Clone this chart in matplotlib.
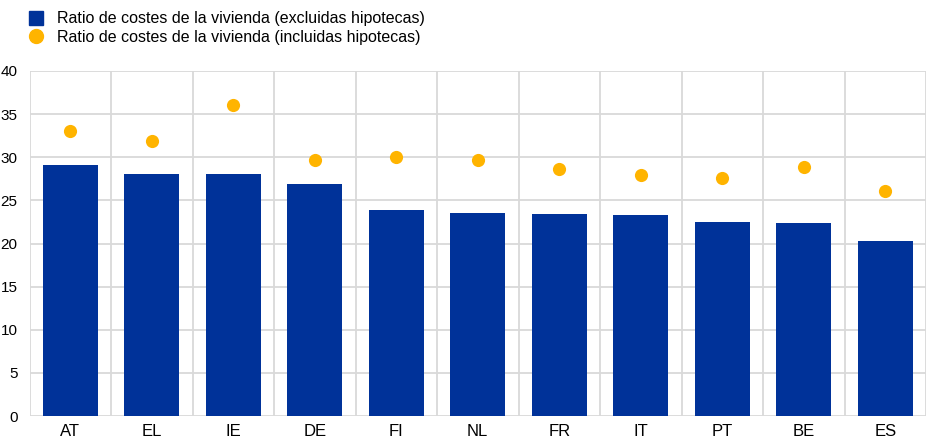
import numpy as np
import matplotlib.pyplot as plt
from matplotlib.lines import Line2D

plt.rcParams['font.family'] = ['Liberation Sans', 'DejaVu Sans']

countries = ['AT', 'EL', 'IE', 'DE', 'FI', 'NL', 'FR', 'IT', 'PT', 'BE', 'ES']
excl_mortgage = [29.1, 28.1, 28.1, 26.9, 23.9, 23.5, 23.4, 23.3, 22.5, 22.4, 20.3]
incl_mortgage = [33.1, 31.9, 36.1, 29.7, 30.0, 29.7, 28.6, 27.9, 27.6, 28.9, 26.1]
label_excl = 'Ratio de costes de la vivienda (excluidas hipotecas)'
label_incl = 'Ratio de costes de la vivienda (incluidas hipotecas)'

blue = '#003299'
yellow = '#FFB400'
grid_col = '#d9d9d9'

fig = plt.figure(figsize=(9.26, 4.41), dpi=100)
ax = fig.add_axes([29.5 / 926, 25 / 441, 896.5 / 926, 345 / 441])

x = np.arange(len(countries))
ax.bar(x, excl_mortgage, width=0.67, color=blue, zorder=3)
ax.scatter(x, incl_mortgage, s=90, color=yellow, zorder=4, linewidths=0)

ax.set_xlim(-0.5, len(countries) - 0.5)
ax.set_ylim(0, 40)
ax.set_yticks(np.arange(0, 41, 5))
ax.set_xticks(x)
ax.set_xticklabels(countries)
ax.set_xticks(np.arange(-0.5, len(countries), 1), minor=True)

ax.grid(axis='y', which='major', color=grid_col, linewidth=1.3, zorder=0)
ax.grid(axis='x', which='minor', color=grid_col, linewidth=1.3, zorder=0)
ax.grid(axis='x', which='major', visible=False)
for s in ax.spines.values():
    s.set_visible(False)
ax.tick_params(axis='both', which='both', length=0, colors='black')
ax.tick_params(axis='y', pad=8.5, labelsize=11)
ax.tick_params(axis='x', pad=6, labelsize=12)

handles = [
    Line2D([], [], marker='s', linestyle='none', color=blue, markersize=10),
    Line2D([], [], marker='o', linestyle='none', color=yellow, markersize=10),
]
fig.legend(handles, [label_excl, label_incl], loc='upper left',
           bbox_to_anchor=(22 / 926, 1 - 5 / 441), frameon=False,
           fontsize=11.5, handlelength=1.0, handletextpad=0.8,
           labelspacing=0.2, borderaxespad=0)

fig.savefig('out.png', dpi=100)
